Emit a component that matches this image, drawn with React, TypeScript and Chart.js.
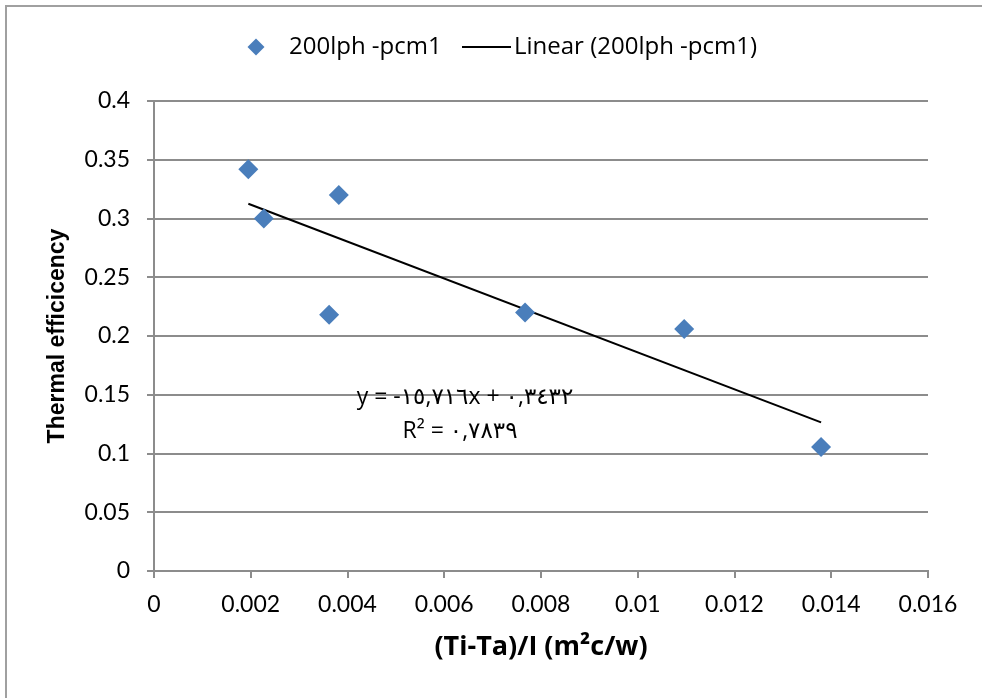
import React, { useEffect, useRef } from "react";
import { Chart, registerables } from "chart.js";

Chart.register(...registerables);

// ---- data ----
const seriesName = "200lph -pcm1";
const trendName = "Linear (200lph -pcm1)";
const xValues = [0.00195, 0.00227, 0.00382, 0.00362, 0.00767, 0.01096, 0.01379];
const yValues = [0.342, 0.3, 0.32, 0.218, 0.22, 0.206, 0.1055];
const trendSlope = -15.716;
const trendIntercept = 0.3432;
const trendXRange = [0.00195, 0.01379];
const equationLines = ["y = -١٥,٧١٦x + ٠,٣٤٣٢", "R² = ٠,٧٨٣٩"];
const xTitle = "(Ti-Ta)/I (m²c/w)";
const yTitle = "Thermal efficicency";
const xAxisRange = [0, 0.016, 0.002];
const yAxisRange = [0, 0.4, 0.05];

const BLUE = "#4a7ebb";
const GRID = "#8c8c8c";
const FONT = "Lato, 'Open Sans', 'DejaVu Sans', sans-serif";
const FONT2 = "'Open Sans', 'DejaVu Sans', sans-serif";

export default function App() {
  const ref = useRef<HTMLCanvasElement | null>(null);

  useEffect(() => {
    if (!ref.current) return;
    const scatterData = xValues.map((x, i) => ({ x, y: yValues[i] }));
    const trendData = trendXRange.map((x) => ({ x, y: trendSlope * x + trendIntercept }));

    const overlay = {
      id: "overlay",
      afterDraw(chart: any) {
        const ctx = chart.ctx;
        ctx.save();
        // outer frame
        ctx.strokeStyle = "#a0a0a0";
        ctx.lineWidth = 2;
        ctx.strokeRect(6, 6, 1100, 1100);
        // legend
        const ly = 47;
        ctx.fillStyle = BLUE;
        ctx.beginPath();
        ctx.moveTo(256 - 8.5, ly);
        ctx.lineTo(256, ly - 8.5);
        ctx.lineTo(256 + 8.5, ly);
        ctx.lineTo(256, ly + 8.5);
        ctx.closePath();
        ctx.fill();
        ctx.fillStyle = "#000";
        ctx.font = `24px ${FONT2}`;
        ctx.textBaseline = "middle";
        ctx.textAlign = "left";
        ctx.fillText(seriesName, 289, ly);
        ctx.strokeStyle = "#000";
        ctx.lineWidth = 2;
        ctx.beginPath();
        ctx.moveTo(462, ly);
        ctx.lineTo(511, ly);
        ctx.stroke();
        ctx.fillText(trendName, 514, ly);
        // equation
        ctx.textAlign = "center";
        ctx.font = `23px ${FONT2}`;
        ctx.fillText(equationLines[0], 465, 397);
        ctx.fillText(equationLines[1], 460, 431);
        ctx.restore();
      },
    };

    const chart = new Chart(ref.current, {
      type: "scatter",
      data: {
        datasets: [
          {
            label: seriesName,
            data: scatterData,
            pointStyle: "rectRot",
            pointRadius: 10,
            pointHoverRadius: 10,
            backgroundColor: BLUE,
            borderColor: BLUE,
            borderWidth: 0,
            order: 1,
          },
          {
            label: trendName,
            data: trendData,
            showLine: true,
            borderColor: "#000",
            borderWidth: 2,
            pointRadius: 0,
            pointHoverRadius: 0,
            order: 2,
          } as any,
        ],
      },
      options: {
        animation: false,
        responsive: false,
        events: [],
        layout: { padding: { left: 0, right: 54, top: 101, bottom: 34 } },
        plugins: { legend: { display: false }, tooltip: { enabled: false } },
        scales: {
          x: {
            type: "linear",
            min: xAxisRange[0],
            max: xAxisRange[1],
            afterFit: (s: any) => {
              s.height = 93;
              s.paddingLeft = 0;
              s.paddingRight = 0;
            },
            ticks: {
              stepSize: xAxisRange[2],
              color: "#000",
              padding: 13,
              maxRotation: 0,
              font: { family: FONT, size: 23 },
              callback: (v: any) => String(Number(Number(v).toFixed(4))),
            },
            grid: {
              drawOnChartArea: false,
              drawTicks: true,
              tickLength: 7,
              color: GRID,
              lineWidth: 2,
            },
            border: { display: true, color: GRID, width: 2 },
            title: {
              display: true,
              text: xTitle,
              color: "#000",
              font: { family: FONT2, size: 27, weight: "bold" },
              padding: { top: 0, bottom: 0 },
            },
          },
          y: {
            type: "linear",
            min: yAxisRange[0],
            max: yAxisRange[1],
            afterFit: (s: any) => {
              s.width = 154;
              s.paddingTop = 0;
              s.paddingBottom = 0;
            },
            ticks: {
              stepSize: yAxisRange[2],
              color: "#000",
              padding: 17,
              font: { family: FONT, size: 23 },
              callback: (v: any) => String(Number(Number(v).toFixed(3))),
            },
            grid: {
              drawOnChartArea: true,
              drawTicks: true,
              tickLength: 7,
              color: GRID,
              lineWidth: 2,
            },
            border: { display: true, color: GRID, width: 2 },
            title: {
              display: true,
              text: yTitle,
              color: "#000",
              font: { family: "'Liberation Sans', Arial, sans-serif", size: 23, weight: "bold" },
              padding: { top: 44, bottom: 0 },
            },
          },
        },
      },
      plugins: [overlay],
    });
    return () => chart.destroy();
  }, []);

  return (
    <div style={{ position: "absolute", left: 0, top: 0, width: 982, height: 698, background: "#fff" }}>
      <canvas ref={ref} width={982} height={698} style={{ width: 982, height: 698, display: "block" }} />
    </div>
  );
}
